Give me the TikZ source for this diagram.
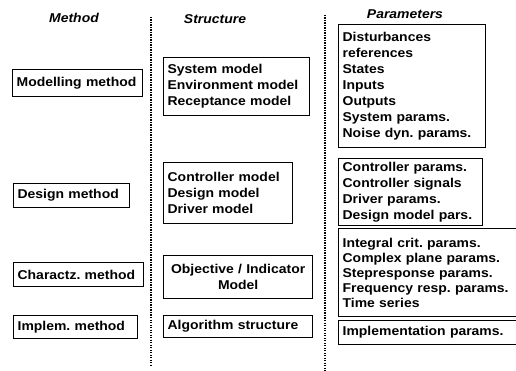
\documentclass[tikz,border=0pt]{standalone}
\usepackage{fontspec}
\setmainfont{Liberation Sans}[FakeStretch=1.09]
\begin{document}
\frenchspacing
\begin{tikzpicture}[x=1pt,y=-1pt,
  lbl/.style={font=\fontsize{12.8}{16}\selectfont\bfseries},
  hdr/.style={font=\fontsize{12.8}{16}\selectfont\bfseries\itshape},
  bx/.style={lbl, draw, line width=1.3pt, anchor=north west, align=left, inner xsep=4pt, inner ysep=0pt},
  cbx/.style={bx, align=center},
  sep/.style={line width=1.4pt, dash pattern=on 1.2pt off 1.3pt}]
\useasboundingbox (0,0) rectangle (516,371);
\clip (0,0) rectangle (516,371);
% headers
\node[hdr] (hm) at (74,18) {Method};
\node[hdr] (hs) at (215,19) {Structure};
\node[hdr] (hp) at (405,14) {Parameters};
% separators
\coordinate (s1a) at (151,17); \coordinate (s1b) at (151,366);
\coordinate (s2a) at (325,15); \coordinate (s2b) at (325,371);
\draw[sep] (s1a) -- (s1b);
\draw[sep] (s2a) -- (s2b);
% method column
\node[bx, text width=122pt, minimum height=27pt] (m1) at (12,69) {Modelling method};
\node[bx, text width=108pt, minimum height=24pt] (m2) at (13,183) {Design method};
\node[bx, text width=122pt, minimum height=24pt] (m3) at (13,262) {Charactz. method};
\node[bx, text width=116pt, minimum height=23pt] (m4) at (13,315) {Implem. method};
% structure column
\node[bx, text width=138pt, minimum height=58pt] (s1) at (163,57) {System model\\Environment model\\Receptance model};
\node[bx, text width=121pt, minimum height=61pt] (s2) at (163,162) {Controller model\\Design model\\Driver model};
\node[cbx, text width=141pt, minimum height=43pt] (s3) at (163,255) {Objective / Indicator\\Model};
\node[bx, text width=141pt, minimum height=22pt] (s4) at (163,315) {Algorithm structure};
% parameters column
\node[bx, text width=139pt, minimum height=123pt] (p1) at (338,24) {Disturbances\\references\\States\\Inputs\\Outputs\\System params.\\Noise dyn. params.};
\node[bx, text width=136pt, minimum height=67pt] (p2) at (338,158) {Controller params.\\Controller signals\\Driver params.\\Design model pars.};
\node[bx, text width=184pt, minimum height=88pt] (p3) at (338,228) {Integral crit. params.\\[-1pt]Complex plane params.\\[-1pt]Stepresponse params.\\[-1pt]Frequency resp. params.\\[-1pt]Time series};
\node[bx, text width=184pt, minimum height=24pt] (p4) at (338,320) {Implementation params.};
\end{tikzpicture}
\end{document}
